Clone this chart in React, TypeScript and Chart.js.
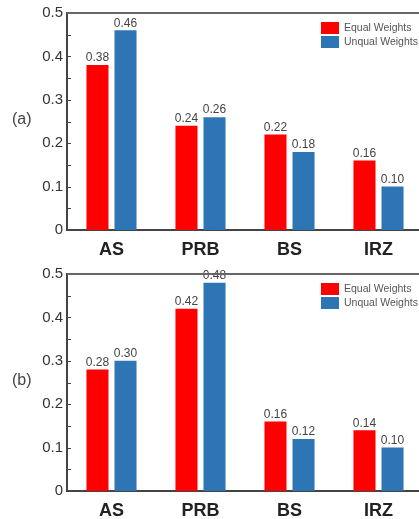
import React, { useEffect, useRef } from "react";
import { Chart, registerables } from "chart.js";

Chart.register(...registerables);

const categories = ["AS", "PRB", "BS", "IRZ"];
const seriesNames = ["Equal Weights", "Unqual Weights"];
const equalA = [0.38, 0.24, 0.22, 0.16];
const unequalA = [0.46, 0.26, 0.18, 0.1];
const equalB = [0.28, 0.42, 0.16, 0.14];
const unequalB = [0.3, 0.48, 0.12, 0.1];
const yTicks = [0, 0.1, 0.2, 0.3, 0.4, 0.5];
const panelLabels = ["(a)", "(b)"];

const RED = "#ff0000";
const BLUE = "#2e75b6";
const FONT = "'Liberation Sans', Arial, sans-serif";

function makeConfig(eq: number[], uq: number[], panel: string): any {
  const decor = {
    id: "decor",
    afterDatasetsDraw(chart: any) {
      const ctx = chart.ctx;
      const ca = chart.chartArea;
      ctx.save();
      // value labels
      ctx.font = `12px ${FONT}`;
      ctx.fillStyle = "#444";
      ctx.textAlign = "center";
      ctx.textBaseline = "bottom";
      chart.data.datasets.forEach((ds: any, di: number) => {
        const meta = chart.getDatasetMeta(di);
        meta.data.forEach((el: any, i: number) => {
          ctx.fillText(Number(ds.data[i]).toFixed(2), el.x, el.y - 1);
        });
      });
      // top frame line
      ctx.strokeStyle = "#666";
      ctx.lineWidth = 2;
      ctx.beginPath();
      ctx.moveTo(ca.left, ca.top);
      ctx.lineTo(ca.right, ca.top);
      ctx.stroke();
      // inward ticks on y axis
      const ys = chart.scales.y;
      ctx.strokeStyle = "#444";
      ctx.lineWidth = 1;
      for (let k = 1; k < 10; k++) {
        const py = Math.round(ys.getPixelForValue(k * 0.05)) + 0.5;
        ctx.beginPath();
        ctx.moveTo(ca.left, py);
        ctx.lineTo(ca.left + 4, py);
        ctx.stroke();
      }
      // legend
      const lx = ca.left + 254;
      const ly = ca.top + 9;
      const colors = [RED, BLUE];
      ctx.font = `10.5px ${FONT}`;
      ctx.textAlign = "left";
      ctx.textBaseline = "middle";
      seriesNames.forEach((n, i) => {
        ctx.fillStyle = colors[i];
        ctx.fillRect(lx, ly + i * 14, 18, 12);
        ctx.fillStyle = "#555";
        ctx.fillText(n, lx + 23, ly + i * 14 + 6.5);
      });
      // panel label
      ctx.font = `16px ${FONT}`;
      ctx.fillStyle = "#444";
      ctx.textAlign = "left";
      ctx.fillText(panel, 12, (ca.top + ca.bottom) / 2 - 2);
      ctx.restore();
    },
  };

  return {
    type: "bar",
    data: {
      labels: categories,
      datasets: [
        { label: seriesNames[0], data: eq, backgroundColor: RED, categoryPercentage: 0.63, barPercentage: 0.786 },
        { label: seriesNames[1], data: uq, backgroundColor: BLUE, categoryPercentage: 0.63, barPercentage: 0.786 },
      ],
    },
    options: {
      responsive: false,
      animation: false,
      layout: { padding: { left: 0, right: 7, top: 11, bottom: 0 } },
      plugins: { legend: { display: false }, tooltip: { enabled: false } },
      scales: {
        x: {
          grid: { display: false, drawTicks: false },
          border: { display: true, color: "#444", width: 2 },
          ticks: { color: "#222", font: { family: FONT, size: 18, weight: "bold" }, padding: 9 },
          afterFit(s: any) {
            s.height = 31;
          },
        },
        y: {
          min: 0,
          max: 0.5,
          afterBuildTicks(s: any) {
            s.ticks = yTicks.map((v) => ({ value: v }));
          },
          grid: { display: false, drawTicks: false },
          border: { display: true, color: "#444", width: 2 },
          ticks: {
            color: "#333",
            font: { family: FONT, size: 15 },
            padding: 4,
            callback: (v: any) => (v === 0 ? "0" : Number(v).toFixed(1)),
          },
          afterFit(s: any) {
            s.width = 67;
          },
        },
      },
    },
    plugins: [decor],
  };
}

function Panel({ eq, uq, label, top }: { eq: number[]; uq: number[]; label: string; top: number }) {
  const ref = useRef<HTMLCanvasElement>(null);
  useEffect(() => {
    if (!ref.current) return;
    const c = new Chart(ref.current, makeConfig(eq, uq, label));
    return () => c.destroy();
  }, []);
  return (
    <canvas
      ref={ref}
      width={430}
      height={261}
      style={{ position: "absolute", left: 0, top, width: 430, height: 261 }}
    />
  );
}

export default function App() {
  return (
    <div
      style={{
        position: "fixed",
        left: 0,
        top: 0,
        width: 419,
        height: 519,
        overflow: "hidden",
        background: "#fff",
      }}
    >
      <Panel eq={equalA} uq={unequalA} label={panelLabels[0]} top={0} />
      <Panel eq={equalB} uq={unequalB} label={panelLabels[1]} top={261} />
    </div>
  );
}
